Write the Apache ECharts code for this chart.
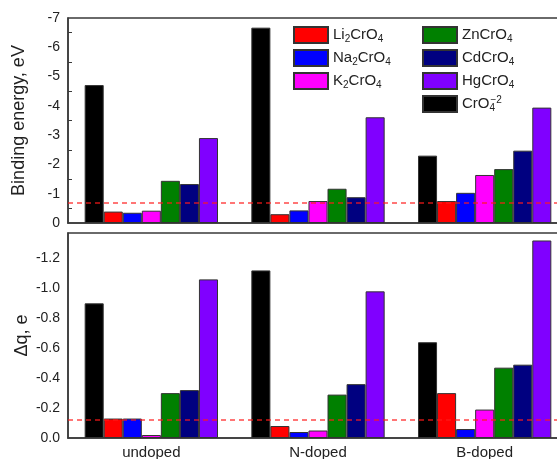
<!DOCTYPE html>
<html>
<head>
<meta charset="utf-8">
<script src="https://cdn.jsdelivr.net/npm/echarts@6/dist/echarts.min.js"></script>
<style>
  html, body { margin: 0; padding: 0; background: #fff; }
  #chart { width: 557px; height: 459px; }
</style>
</head>
<body>
<div id="chart"></div>
<script>
// categories
const categories = ['undoped', 'N-doped', 'B-doped']

// series names (order of bars inside a group) + colours
const names = ['CrO4-2', 'Li2CrO4', 'Na2CrO4', 'K2CrO4', 'ZnCrO4', 'CdCrO4', 'HgCrO4']
const colors = ['#000000', '#ff0000', '#0000ff', '#ff00ff', '#008000', '#000080', '#8000ff']

// binding energy, eV
const beCrO4 = [-4.71, -6.67, -2.30]
const beLi = [-0.39, -0.30, -0.75]
const beNa = [-0.35, -0.43, -1.03]
const beK = [-0.42, -0.75, -1.64]
const beZn = [-1.44, -1.17, -1.84]
const beCd = [-1.33, -0.88, -2.47]
const beHg = [-2.90, -3.61, -3.94]
const beRef = -0.68

// charge transfer, e
const dqCrO4 = [-0.90, -1.12, -0.64]
const dqLi = [-0.13, -0.08, -0.30]
const dqNa = [-0.13, -0.04, -0.06]
const dqK = [-0.02, -0.05, -0.19]
const dqZn = [-0.30, -0.29, -0.47]
const dqCd = [-0.32, -0.36, -0.49]
const dqHg = [-1.06, -0.98, -1.32]
const dqRef = -0.12

// tick values of the lower panel
const dqMajor = [0, -0.2, -0.4, -0.6, -0.8, -1.0, -1.2]
const dqMinor = [-0.1, -0.3, -0.5, -0.7, -0.9, -1.1, -1.3]

const beData = [beCrO4, beLi, beNa, beK, beZn, beCd, beHg]
const dqData = [dqCrO4, dqLi, dqNa, dqK, dqZn, dqCd, dqHg]

const legendText = {
  'Li2CrO4': '{n|Li}{b|2}{n|CrO}{b|4}',
  'Na2CrO4': '{n|Na}{b|2}{n|CrO}{b|4}',
  'K2CrO4': '{n|K}{b|2}{n|CrO}{b|4}',
  'ZnCrO4': '{n|ZnCrO}{b|4}',
  'CdCrO4': '{n|CdCrO}{b|4}',
  'HgCrO4': '{n|HgCrO}{b|4}',
  'CrO4-2': '{n|CrO}{bs|4}{p|−2}'
}

const font = 'Liberation Sans, Arial, sans-serif'
const ink = '#222'
const frame = '#3a3a3a'

function makeSeries(data, idx, refValue) {
  return data.map((vals, i) => {
    const s = {
      id: names[i] + '_' + idx,
      name: names[i],
      type: 'bar',
      xAxisIndex: idx,
      yAxisIndex: idx,
      barGap: '0%',
      barCategoryGap: '20%',
      itemStyle: { color: colors[i], borderColor: '#333', borderWidth: 1 },
      data: vals
    }
    // dashed reference line, drawn with the last series so it sits on top
    if (i === data.length - 1) {
      s.markLine = {
        silent: true,
        symbol: 'none',
        label: { show: false },
        lineStyle: { color: '#ff1a1a', type: [5, 4], width: 1.5, opacity: 0.8 },
        emphasis: { disabled: true },
        data: [{ yAxis: refValue }]
      }
    }
    return s
  })
}

const legendCommon = {
  orient: 'vertical',
  icon: 'rect',
  padding: 0,
  itemWidth: 34,
  itemHeight: 16,
  itemGap: 5,
  selectedMode: false,
  formatter: name => legendText[name],
  textStyle: {
    color: ink,
    fontFamily: font,
    rich: {
      n: { fontSize: 15, fontFamily: font, color: ink },
      b: { fontSize: 10, fontFamily: font, color: ink, verticalAlign: 'bottom', padding: [8, 0, 0, 0] },
      bs: { fontSize: 10, fontFamily: font, color: ink, verticalAlign: 'bottom', padding: [8, 0, 0, 0], width: 1 },
      p: { fontSize: 10, fontFamily: font, color: ink, verticalAlign: 'top', padding: [0, 0, 8, 0] }
    }
  }
}

const chart = echarts.init(document.getElementById('chart'))

chart.setOption({
  animation: false,
  backgroundColor: '#fff',
  textStyle: { fontFamily: font },
  legend: [
    Object.assign({}, legendCommon, { left: 293, top: 26, data: ['Li2CrO4', 'Na2CrO4', 'K2CrO4'] }),
    Object.assign({}, legendCommon, { left: 422, top: 26, data: ['ZnCrO4', 'CdCrO4', 'HgCrO4', 'CrO4-2'] })
  ],
  grid: [
    { left: 68, top: 18, width: 500, height: 205, show: true, borderColor: frame, borderWidth: 1.5, outerBoundsMode: 'none' },
    { left: 68, top: 233, width: 500, height: 205, show: true, borderColor: frame, borderWidth: 1.5, outerBoundsMode: 'none' }
  ],
  xAxis: [
    {
      type: 'category', gridIndex: 0, data: categories,
      axisLine: { lineStyle: { color: frame, width: 1.5 } },
      axisTick: { show: false }, axisLabel: { show: false }
    },
    {
      type: 'category', gridIndex: 1, data: categories,
      axisLine: { lineStyle: { color: frame, width: 1.5 } },
      axisTick: { show: false },
      axisLabel: { color: ink, fontSize: 15, fontFamily: font, margin: 7 }
    }
  ],
  yAxis: [
    {
      type: 'value', gridIndex: 0, min: -7, max: 0, interval: 1, inverse: true,
      name: 'Binding energy, eV', nameLocation: 'middle', nameGap: 40, nameMoveOverlap: false,
      nameTextStyle: { color: ink, fontSize: 18, fontFamily: font },
      axisLine: { show: true, lineStyle: { color: frame, width: 1.5 } },
      axisTick: { inside: true, length: 7, lineStyle: { color: frame } },
      minorTick: { show: true, splitNumber: 2, length: 4, lineStyle: { color: frame } },
      splitLine: { show: false },
      axisLabel: { color: ink, fontSize: 14, fontFamily: font, margin: 8 }
    },
    {
      type: 'value', gridIndex: 1, min: -1.37, max: 0, inverse: true, position: 'left',
      name: 'Δq, e', nameLocation: 'middle', nameGap: 37, nameMoveOverlap: false,
      nameTextStyle: { color: ink, fontSize: 18, fontFamily: font },
      axisLine: { show: true, lineStyle: { color: frame, width: 1.5 } },
      axisTick: { inside: true, length: 7, customValues: dqMajor, lineStyle: { color: frame } },
      splitLine: { show: false },
      axisLabel: {
        color: ink, fontSize: 14, fontFamily: font, margin: 8,
        customValues: dqMajor,
        formatter: v => (Math.abs(v) < 1e-9 ? '0.0' : v.toFixed(1))
      }
    },
    {
      type: 'value', gridIndex: 1, min: -1.37, max: 0, inverse: true, position: 'left',
      axisLine: { show: false },
      axisTick: { inside: true, length: 4, customValues: dqMinor, lineStyle: { color: frame } },
      splitLine: { show: false },
      axisLabel: { show: false }
    }
  ],
  series: makeSeries(beData, 0, beRef).concat(makeSeries(dqData, 1, dqRef))
})
</script>
</body>
</html>
